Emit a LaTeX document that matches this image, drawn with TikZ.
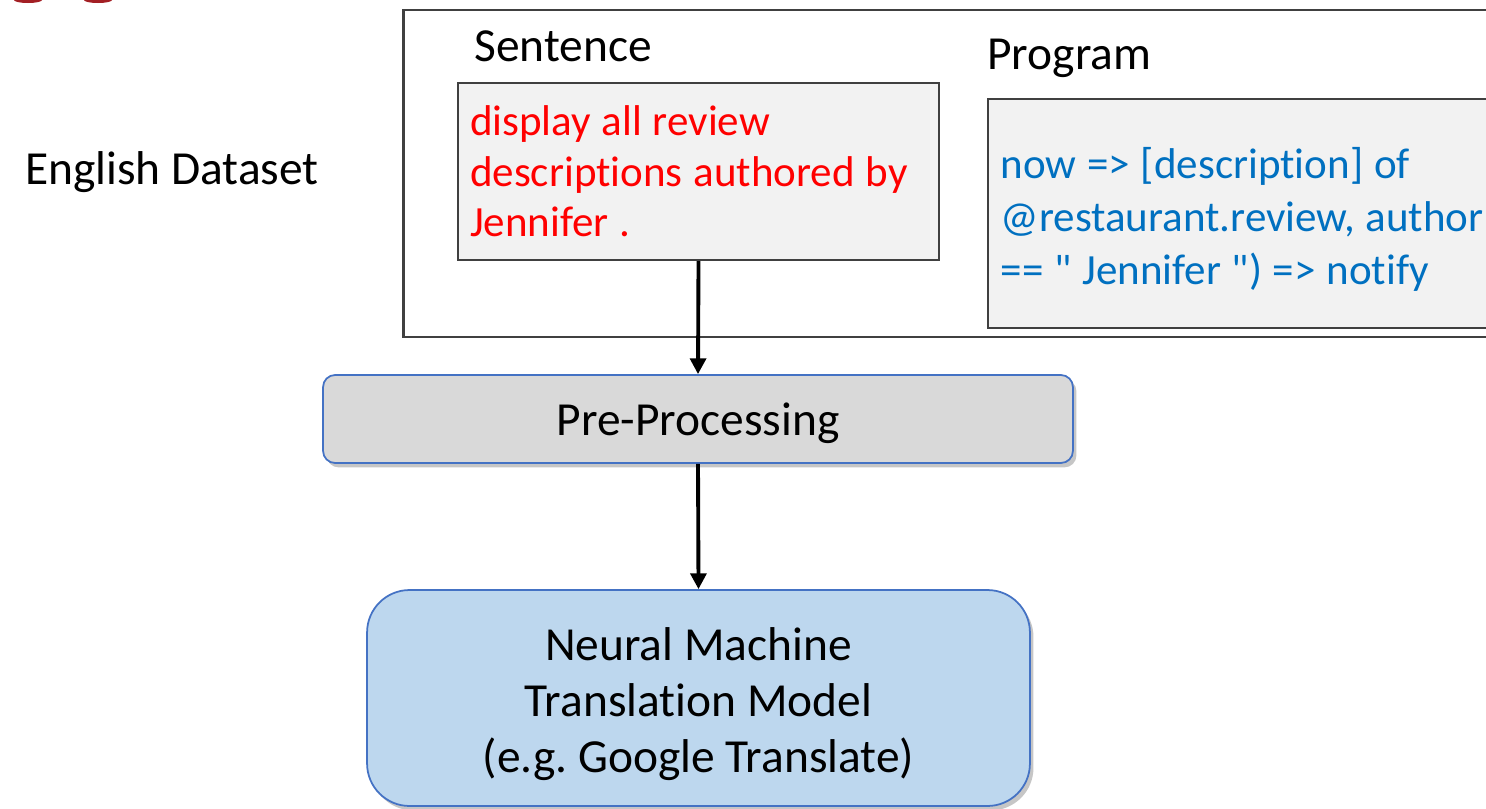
\documentclass[tikz,border=0pt]{standalone}
\usepackage{fontspec}
\setmainfont[Ligatures={TeX,NoCommon}]{Carlito}
\usetikzlibrary{arrows.meta,shadows}
\definecolor{framegray}{HTML}{404040}
\definecolor{boxgray}{HTML}{F2F2F2}
\definecolor{pregray}{HTML}{D9D9D9}
\definecolor{nmtblue}{HTML}{BDD7EE}
\definecolor{edgeblue}{HTML}{4472C4}
\definecolor{progblue}{HTML}{0070C0}
\definecolor{logored}{HTML}{A31F24}
\newcommand\tightsp{\spaceskip=0.25em\relax}
\frenchspacing

\begin{document}
\begin{tikzpicture}[x=0.02cm, y=-0.02cm,
    txt/.style={font=\fontsize{27}{32}\selectfont},
    textbox/.style={draw=framegray, line width=1.3pt, fill=boxgray, align=left},
    stagebox/.style={txt, draw=edgeblue, line width=1pt, align=center,
        drop shadow={shadow xshift=2pt, shadow yshift=-2.5pt, opacity=0.45}},
    flow/.style={line width=2.2pt, -{Triangle[length=9pt,width=9pt]}}]
    \useasboundingbox (0,0) rectangle (1486,808);
    \clip (0,0) rectangle (1486,808);
    % logo fragments
    \fill[logored] (28,0) ellipse (14 and 3);
    \fill[logored] (98,0) ellipse (14 and 3);
    % dataset frame
    \draw[framegray, line width=1.7pt] (403,10) rectangle (1530,337);
    \node[txt] (dataset) at (172,172) {English Dataset};
    \node[txt] (sentlabel) at (563,46) {Sentence};
    \node[txt, anchor=west, inner sep=0pt] (proglabel) at (987,58) {Program};
    \node[textbox, text=red, minimum width=9.62cm, minimum height=3.54cm,
        text width=9.14cm, inner xsep=0.24cm,
        font=\fontsize{24.5}{28.7}\selectfont] (sentence) at (698.5,171.5)
        {\tightsp display all review\\descriptions authored by\\Jennifer .};
    \node[textbox, text=progblue, anchor=west, minimum width=11cm, minimum height=4.58cm,
        text width=10.5cm, inner xsep=0.25cm,
        font=\fontsize{24.5}{30}\selectfont] (program) at (987,213.5)
        {\tightsp\rule{0pt}{24.5pt}now => [description] of\\@restaurant.review, author\\== \textquotedbl{} Jennifer \textquotedbl) => notify};
    % pipeline
    \node[stagebox, fill=pregray, rounded corners=0.24cm, minimum width=15cm,
        minimum height=1.76cm, text depth=0pt] (preproc) at (698,419) {Pre-Processing};
    \node[stagebox, fill=nmtblue, rounded corners=0.85cm, minimum width=13.26cm,
        minimum height=4.32cm] (nmt) at (698.5,698)
        {\rule{0pt}{26pt}Neural Machine\\Translation Model\\(e.g. Google Translate)};
    \draw[flow] (sentence.south) -- (preproc.north);
    \draw[flow] (preproc.south) -- (nmt.north);
\end{tikzpicture}
\end{document}
